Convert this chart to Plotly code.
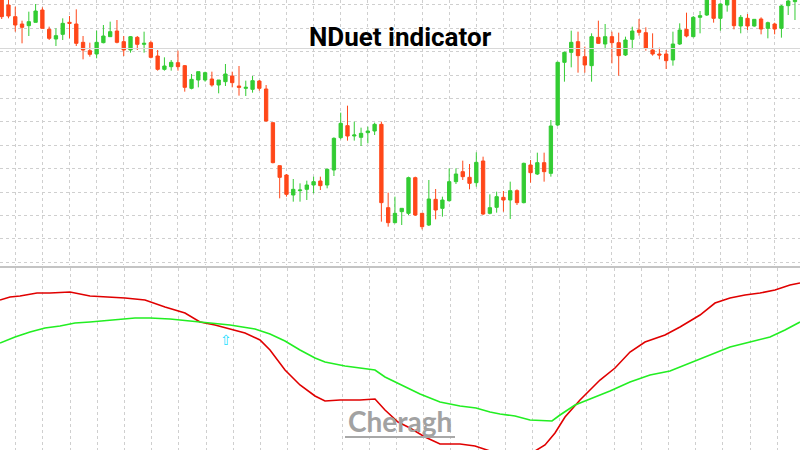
import plotly.graph_objects as go

# candle prices (arbitrary units)
opens = [810,785,750,728,723,733,770,712,683,697,733,728,673,648,638,672,690,707,675,650,688,667,672,632,592,600,612,603,535,560,
         560,563,545,555,572,542,535,532,557,533,432,303,275,215,228,232,245,257,245,290,387,423,392,388,402,407,427,177,132,
         165,160,267,160,125,202,175,198,255,285,268,252,317,160,178,208,200,228,192,305,278,312,280,425,613,643,675,630,603,688,
         668,690,672,635,682,710,702,650,638,638,620,668,712,690,748,755,815,745,785,805,722,745,722,743,715,728,715,783,795]
closes = [750,752,725,718,735,767,715,685,693,730,730,670,650,637,673,692,705,673,650,690,667,670,628,592,602,613,600,538,562,585,
          582,545,560,578,552,538,538,558,535,437,312,268,217,232,230,245,255,243,292,385,430,392,395,400,407,427,192,132,160,
          175,267,155,120,203,170,200,255,278,270,250,313,158,177,210,200,228,192,310,282,312,285,422,613,643,673,633,605,690,670,
          690,672,633,680,707,703,655,638,635,618,668,710,692,748,753,820,745,788,810,723,748,722,742,713,732,713,782,797,805]
highs = [820,800,780,738,765,788,778,720,715,745,752,772,692,672,708,725,735,740,692,692,692,705,678,650,628,620,648,605,578,585,
         585,585,560,608,585,602,558,572,560,545,432,303,278,263,250,258,270,270,295,388,462,483,435,417,420,432,435,222,210,
         175,270,270,160,260,233,210,295,295,318,308,343,330,217,225,227,255,232,312,320,342,342,440,615,645,708,705,660,700,738,
         728,705,702,690,720,743,718,700,657,650,705,730,762,752,767,830,825,790,820,815,755,758,742,748,735,732,785,805,815]
lows = [743,745,705,670,692,733,715,680,662,680,685,662,622,630,625,670,690,670,632,642,650,642,625,588,588,588,588,525,532,538,
        555,540,520,542,538,513,512,522,528,435,310,205,210,195,195,200,220,230,235,272,382,378,378,362,370,395,135,120,130,
        125,155,152,112,122,142,150,195,248,260,232,240,155,157,162,165,143,185,190,252,275,255,270,422,555,598,582,582,555,668,
        652,610,573,632,652,693,648,633,622,593,603,665,688,688,700,752,732,708,765,712,700,710,720,697,685,697,687,755,740]
candle_idx = list(range(len(opens)))

# NDuet lines (time in screen-ish units, level 0..182)
red_t = [0,10,20,37,50,70,90,110,125,145,165,185,200,215,230,245,260,270,285,300,315,325,340,360,375,385,398,410,425,440,
         460,475,490,515,535,545,555,565,580,600,615,630,645,665,680,700,715,730,745,760,775,790,800]
red_level = [150,153,154,157,157,158,154,153,152,150,143,137,128,125,121,117,110,100,80,65,54,49,50,50,51,40,28,22,13,6,
             6,4,-1,-2,-1,5,17,33,50,70,82,98,108,115,123,135,147,152,155,157,160,165,167]
green_t = [0,15,30,45,60,75,90,100,120,135,150,170,190,210,230,255,270,285,300,315,325,345,360,375,385,400,420,440,460,476,
           490,500,515,530,545,552,560,575,590,610,630,650,670,690,710,730,750,770,785,800]
green_level = [107,113,118,122,124,127,128,129,131,132,132,131,129,127,125,121,116,109,100,92,88,84,82,80,73,66,56,48,44,42,
               38,36,34,30,29,29,35,45,51,59,68,75,79,87,95,103,108,113,120,128]

fig = go.Figure()

fig.add_trace(go.Candlestick(
    x=candle_idx, open=opens, high=highs, low=lows, close=closes,
    increasing=dict(line=dict(color='#33cc33', width=1), fillcolor='#33cc33'),
    decreasing=dict(line=dict(color='#ff4719', width=1), fillcolor='#ff4719'),
    whiskerwidth=0, xaxis='x', yaxis='y', showlegend=False,
))
fig.add_trace(go.Scatter(x=red_t, y=red_level, mode='lines', line=dict(color='#e00000', width=1.6),
                         xaxis='x2', yaxis='y2', showlegend=False))
fig.add_trace(go.Scatter(x=green_t, y=green_level, mode='lines', line=dict(color='#22ee22', width=1.6),
                         xaxis='x2', yaxis='y2', showlegend=False))

grid = dict(showgrid=True, gridcolor='#cfcfcf', griddash='dot', gridwidth=1,
            showticklabels=False, zeroline=False, showline=False, ticks='')

fig.update_layout(
    width=800, height=450, margin=dict(l=0, r=0, t=0, b=0),
    paper_bgcolor='white', plot_bgcolor='white',
    xaxis=dict(grid, range=[-0.25, 117.74], tick0=2, dtick=4, rangeslider=dict(visible=False)),
    yaxis=dict(grid, range=[5, 800], domain=[0.4111, 1], tick0=785.3, dtick=70.2),
    xaxis2=dict(grid, range=[0, 800], tick0=15.7, dtick=27.2, anchor='y2'),
    yaxis2=dict(showgrid=False, showticklabels=False, zeroline=False, range=[0, 182], domain=[0, 0.4044]),
    font=dict(family='Roboto'),
    shapes=[
        # price line and panel separator
        dict(type='line', xref='paper', yref='paper', x0=0, x1=1, y0=1 - 48.5 / 450, y1=1 - 48.5 / 450,
             line=dict(color='#d8d8d8', width=1)),
        dict(type='line', xref='paper', yref='paper', x0=0, x1=1, y0=1 - 267 / 450, y1=1 - 267 / 450,
             line=dict(color='#c4c4c4', width=2)),
        dict(type='line', xref='paper', yref='paper', x0=345 / 800, x1=455 / 800, y0=1 - 437 / 450, y1=1 - 437 / 450,
             line=dict(color='#a8a8a8', width=2)),
    ],
    annotations=[
        dict(text='<b>NDuet indicator</b>', xref='paper', yref='paper', x=0.5, y=1 - 37 / 450,
             yanchor='middle', showarrow=False, font=dict(size=26, color='black', family='Roboto')),
        dict(text='<b>Cheragh</b>', xref='paper', yref='paper', x=400 / 800, y=1 - 421 / 450,
             yanchor='middle', showarrow=False, font=dict(size=28, color='#a2a2a2', family='Lato')),
        dict(text='⇧', xref='paper', yref='paper', x=218 / 800, y=1 - 340 / 450,
             yanchor='middle', showarrow=False, font=dict(size=14, color='#22ddff')),
    ],
)

fig.write_html("out.html", config={'displayModeBar': False},
               post_script="document.body.style.margin='0';")
